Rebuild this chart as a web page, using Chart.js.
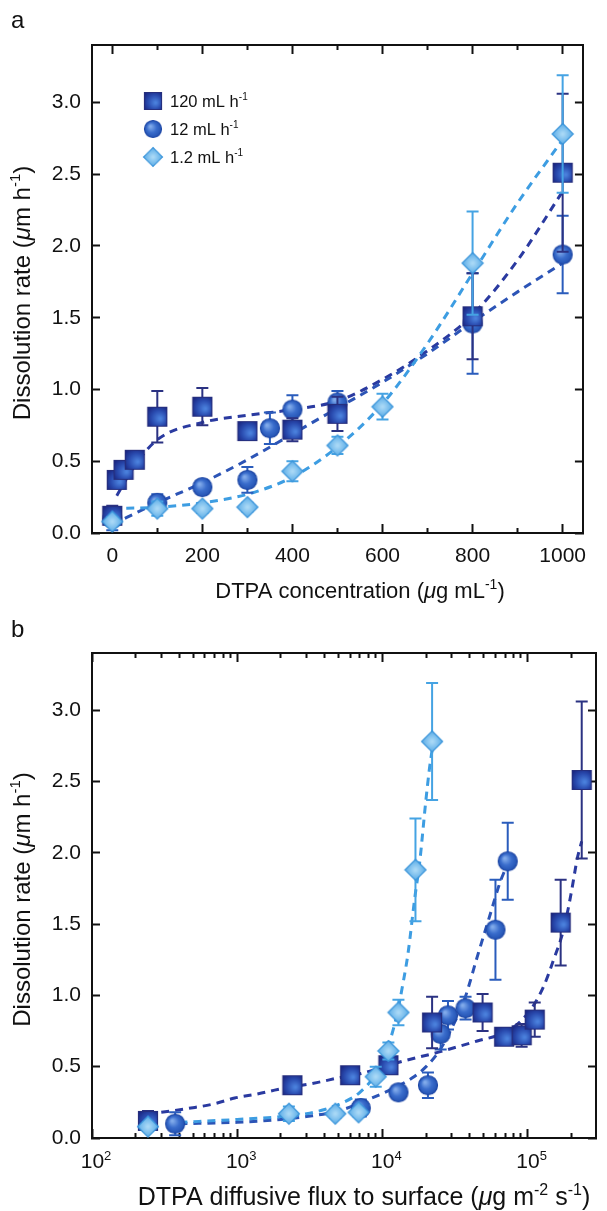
<!DOCTYPE html>
<html>
<head>
<meta charset="utf-8">
<script src="https://cdn.jsdelivr.net/npm/chart.js@4.4.0/dist/chart.umd.min.js"></script>
<style>
  html, body { margin: 0; padding: 0; background: #fff; }
  #wrap { position: relative; width: 607px; height: 1211px; }
  .panel { position: absolute; left: 0; width: 607px; }
  #pa { top: 0; height: 605px; }
  #pb { top: 605px; height: 606px; }
</style>
</head>
<body>
<div id="wrap">
  <div class="panel" id="pa"><canvas id="chartA" width="607" height="605"></canvas></div>
  <div class="panel" id="pb"><canvas id="chartB" width="607" height="606"></canvas></div>
</div>
<script>
// --- data ---

// panel a: DTPA concentration (ug mL-1)
const concSq = [0, 10, 25, 50, 100, 200, 300, 400, 500, 800, 1000];
const concCi = [0, 100, 200, 300, 350, 400, 500, 800, 1000];
const concDi = [0, 100, 200, 300, 400, 500, 600, 800, 1000];

// panel b: DTPA diffusive flux to surface (ug m-2 s-1)
const fluxSq = [243, 2400, 6000, 11000, 22000, 49000, 69000, 91000, 112000, 169000, 236000];
const fluxCi = [374, 7100, 12900, 20600, 25200, 28300, 37400, 60100, 73000];
const fluxDi = [243, 2270, 4740, 6860, 9000, 11000, 12900, 16900, 22000];

// dissolution rate (um h-1) +/- error, same points in both panels
const rateSq = [0.12, 0.37, 0.44, 0.51, 0.81, 0.88, 0.71, 0.72, 0.83, 1.51, 2.51];
const errSq  = [0.07, 0.03, 0.03, 0.03, 0.18, 0.13, 0.05, 0.08, 0.12, 0.30, 0.55];
const rateCi = [0.10, 0.21, 0.32, 0.37, 0.73, 0.86, 0.91, 1.46, 1.94];
const errCi  = [0.08, 0.06, 0.03, 0.09, 0.11, 0.10, 0.08, 0.35, 0.27];
const rateDi = [0.08, 0.17, 0.17, 0.18, 0.43, 0.61, 0.88, 1.88, 2.78];
const errDi  = [0.03, 0.05, 0.03, 0.03, 0.07, 0.06, 0.09, 0.36, 0.41];

// dashed trend lines, panel a
const fitConcSq = [10, 50, 100, 200, 300, 400, 500, 600, 700, 800, 900, 1000];
const fitSqA    = [0.26, 0.47, 0.65, 0.77, 0.82, 0.86, 0.92, 1.07, 1.27, 1.52, 1.90, 2.38];
const fitConc   = [0, 100, 200, 300, 400, 500, 600, 700, 800, 900, 1000];
const fitCiA    = [0.06, 0.21, 0.35, 0.51, 0.69, 0.87, 1.05, 1.25, 1.47, 1.68, 1.88];
const fitDiA    = [0.17, 0.18, 0.21, 0.27, 0.39, 0.60, 0.90, 1.32, 1.81, 2.30, 2.74];

// dashed trend lines, panel b
const fitFluxSq = [300, 480, 700, 960, 1400, 1900, 3600, 4900, 7000, 14000, 24000, 45000, 70000, 90000, 110000, 130000, 150000, 178000, 200000, 220000, 236000];
const fitSqB    = [0.18, 0.21, 0.24, 0.28, 0.31, 0.34, 0.39, 0.42, 0.45, 0.54, 0.60, 0.68, 0.74, 0.82, 0.93, 1.07, 1.24, 1.47, 1.72, 1.96, 2.08];
const fitFluxCi = [400, 1000, 2000, 3000, 5000, 8000, 12000, 16000, 20000, 25000, 30000, 37000, 45000, 55000, 65000, 70000];
const fitCiB    = [0.10, 0.11, 0.13, 0.15, 0.19, 0.27, 0.35, 0.42, 0.50, 0.62, 0.77, 0.98, 1.27, 1.56, 1.80, 1.88];
const fitFluxDi = [400, 1000, 2000, 3000, 4000, 5400, 7000, 9000, 11000, 12500, 13900, 15000, 16700, 18100, 19900, 21100, 22000];
const fitDiB    = [0.11, 0.13, 0.15, 0.17, 0.20, 0.25, 0.32, 0.45, 0.65, 0.85, 1.09, 1.29, 1.68, 1.94, 2.36, 2.59, 2.72];

// ticks
const rateTicks = [0, 0.5, 1, 1.5, 2, 2.5, 3];
const concTicks = [0, 200, 400, 600, 800, 1000];
const concMinorTicks = [100, 300, 500, 700, 900];
const fluxDecades = [100, 1000, 10000, 100000];
const fluxExponents = ['2', '3', '4', '5'];

const seriesNames = ['120 mL h', '12 mL h', '1.2 mL h'];

const FONT = '"Liberation Sans", Arial, Helvetica, sans-serif';
const INK = '#111';
const FLUX_MAX = 296000;

// minor log ticks: 2..9 within each decade
const fluxMinorTicks = [];
fluxDecades.forEach(d => {
  for (let m = 2; m <= 9; m++) if (d * m < FLUX_MAX) fluxMinorTicks.push(d * m);
});

// shaded marker images
function markerCanvas(kind) {
  const c = document.createElement('canvas');
  const S = kind === 'di' ? 24 : 22;
  c.width = S; c.height = S;
  const g = c.getContext('2d');
  const m = S / 2;
  let grad;
  g.beginPath();
  if (kind === 'sq') {
    g.rect(m - 9.5, m - 9.5, 19, 19);
    grad = g.createRadialGradient(m + 3, m + 2, 1, m + 1, m + 1, 13);
    grad.addColorStop(0, '#4a80dc');
    grad.addColorStop(0.55, '#2a4cb0');
    grad.addColorStop(1, '#1b2884');
    g.strokeStyle = '#262e7c';
  } else if (kind === 'ci') {
    g.arc(m, m, 9.5, 0, Math.PI * 2);
    grad = g.createRadialGradient(m - 3, m - 3, 1, m, m, 10);
    grad.addColorStop(0, '#80aaea');
    grad.addColorStop(0.5, '#3a6dcc');
    grad.addColorStop(1, '#2150b0');
    g.strokeStyle = '#1f48a6';
  } else {
    g.moveTo(m, m - 10.5); g.lineTo(m + 10.5, m); g.lineTo(m, m + 10.5); g.lineTo(m - 10.5, m);
    g.closePath();
    grad = g.createRadialGradient(m, m, 1, m, m, 11);
    grad.addColorStop(0, '#a8d8f6');
    grad.addColorStop(1, '#54a8e6');
    g.strokeStyle = '#3a94da';
  }
  g.fillStyle = grad;
  g.fill();
  g.lineWidth = 1.2;
  g.stroke();
  return c;
}
const MK = { sq: markerCanvas('sq'), ci: markerCanvas('ci'), di: markerCanvas('di') };

const COL = {
  sqLine: '#2a3aa0', ciLine: '#2c54b6', diLine: '#3d9de2',
  sqErr: '#2b3282', ciErr: '#2a5cbc', diErr: '#45a3e3'
};

const pts = (xs, ys) => xs.map((x, i) => ({ x, y: ys[i] }));

// text with italic / superscript runs
function drawRich(ctx, parts, x, y, size, align, rotate) {
  ctx.save();
  ctx.translate(x, y);
  if (rotate) ctx.rotate(-Math.PI / 2);
  const fontOf = k => (k === 'i' ? 'italic ' : '') + (k === 's' ? Math.round(size * 0.62) : size) + 'px ' + FONT;
  let total = 0;
  parts.forEach(([t, k]) => { ctx.font = fontOf(k); total += ctx.measureText(t).width; });
  let cx = align === 'center' ? -total / 2 : 0;
  ctx.textBaseline = 'alphabetic';
  ctx.textAlign = 'left';
  ctx.fillStyle = INK;
  parts.forEach(([t, k]) => {
    ctx.font = fontOf(k);
    ctx.fillText(t, cx, k === 's' ? -size * 0.4 : 0);
    cx += ctx.measureText(t).width;
  });
  ctx.restore();
}

const errorBars = {
  id: 'errorBars',
  beforeDatasetDraw(chart, args) {
    const ds = chart.data.datasets[args.index];
    if (!ds.errors) return;
    const { ctx } = chart;
    const x = chart.scales.x, y = chart.scales.y;
    ctx.save();
    ctx.strokeStyle = ds.errColor;
    ctx.lineWidth = 2;
    ds.data.forEach((p, i) => {
      const px = x.getPixelForValue(p.x);
      const top = y.getPixelForValue(p.y + ds.errors[i]);
      const bot = y.getPixelForValue(p.y - ds.errors[i]);
      ctx.beginPath();
      ctx.moveTo(px, top); ctx.lineTo(px, bot);
      ctx.moveTo(px - 6, top); ctx.lineTo(px + 6, top);
      ctx.moveTo(px - 6, bot); ctx.lineTo(px + 6, bot);
      ctx.stroke();
    });
    ctx.restore();
  }
};

function axis(position, o) {
  const side = position === 'left' || position === 'right';
  return {
    type: o.type || 'linear',
    position,
    min: o.min, max: o.max,
    weight: o.weight || 0,
    afterBuildTicks: s => { s.ticks = o.ticks.map(v => ({ value: v })); },
    afterFit: s => { if (side) s.width = o.size; else s.height = o.size; },
    border: { display: o.border !== false, color: INK, width: 2 },
    grid: { drawOnChartArea: false, tickLength: -o.tick, tickWidth: 2, tickColor: INK },
    ticks: o.labels
      ? { display: true, autoSkip: false, maxRotation: 0, padding: o.pad, color: INK,
          font: { family: FONT, size: 21 }, callback: o.labels }
      : { display: false }
  };
}

function datasets(xSq, xCi, xDi, fits) {
  const line = (data, color, order) => ({
    data, showLine: true, pointRadius: 0, borderColor: color, borderWidth: 3,
    borderDash: [8, 6], cubicInterpolationMode: 'monotone', fill: false, order
  });
  const mark = (label, data, errors, errColor, style, order) => ({
    label, data, errors, errColor, pointStyle: style, pointRadius: 10, order
  });
  return [
    line(fits[0], COL.sqLine, 6),
    line(fits[1], COL.ciLine, 5),
    line(fits[2], COL.diLine, 4),
    mark(seriesNames[1], pts(xCi, rateCi), errCi, COL.ciErr, MK.ci, 3),
    mark(seriesNames[0], pts(xSq, rateSq), errSq, COL.sqErr, MK.sq, 2),
    mark(seriesNames[2], pts(xDi, rateDi), errDi, COL.diErr, MK.di, 1)
  ];
}

function yScales() {
  return {
    y: axis('left', { min: 0, max: 3.4, ticks: rateTicks, tick: 8, size: 92, pad: 19,
                      labels: v => v.toFixed(1) }),
    yr: axis('right', { min: 0, max: 3.4, ticks: rateTicks, tick: 8, size: 0 })
  };
}

const baseOpts = padTop => ({
  responsive: false, animation: false, devicePixelRatio: 1, events: [],
  layout: { padding: { top: padTop, right: 9, bottom: 0, left: 0 } },
  plugins: { legend: { display: false }, tooltip: { enabled: false } }
});

const yTitle = [['Dissolution rate (', ''], ['\u03bc', 'i'], ['m h', ''], ['-1', 's'], [')', '']];

// ---------- panel a ----------
const decorA = {
  id: 'decorA',
  afterDraw(chart) {
    const { ctx, chartArea: a } = chart;
    ctx.save();
    ctx.font = '24px ' + FONT; ctx.fillStyle = INK; ctx.textBaseline = 'alphabetic';
    ctx.fillText('a', 11, 28);
    ctx.restore();
    drawRich(ctx, yTitle, 30, (a.top + a.bottom) / 2 + 4, 24, 'center', true);
    drawRich(ctx, [['DTPA concentration (', ''], ['\u03bc', 'i'], ['g mL', ''], ['-1', 's'], [')', '']],
             360, 598, 22, 'center', false);
    // legend
    const marks = [MK.sq, MK.ci, MK.di];
    seriesNames.forEach((name, i) => {
      const cy = 101 + i * 28;
      const img = marks[i];
      ctx.drawImage(img, 153 - img.width * 0.45, cy - img.height * 0.45, img.width * 0.9, img.height * 0.9);
      drawRich(ctx, [[name, ''], ['-1', 's']], 170, cy + 6, 16.5, 'left', false);
    });
  }
};

new Chart(document.getElementById('chartA'), {
  type: 'scatter',
  data: { datasets: datasets(concSq, concCi, concDi,
    [pts(fitConcSq, fitSqA), pts(fitConc, fitCiA), pts(fitConc, fitDiA)]) },
  options: Object.assign(baseOpts(45), {
    scales: Object.assign({
      xm: axis('bottom', { min: -45, max: 1045, ticks: concMinorTicks, tick: 5, size: 0, weight: 0, border: false }),
      x: axis('bottom', { min: -45, max: 1045, ticks: concTicks, tick: 9, size: 72, weight: 1, pad: 20,
                          labels: v => String(v) }),
      xt: axis('top', { min: -45, max: 1045, ticks: concTicks, tick: 9, size: 0, weight: 0 }),
      xtm: axis('top', { min: -45, max: 1045, ticks: concMinorTicks, tick: 5, size: 0, weight: 1, border: false })
    }, yScales())
  }),
  plugins: [errorBars, decorA]
});

// ---------- panel b ----------
const decorB = {
  id: 'decorB',
  afterDraw(chart) {
    const { ctx, chartArea: a } = chart;
    ctx.save();
    ctx.font = '24px ' + FONT; ctx.fillStyle = INK; ctx.textBaseline = 'alphabetic';
    ctx.fillText('b', 11, 32);
    ctx.restore();
    drawRich(ctx, yTitle, 30, (a.top + a.bottom) / 2 + 4, 24, 'center', true);
    drawRich(ctx, [['DTPA diffusive flux to surface (', ''], ['\u03bc', 'i'], ['g m', ''], ['-2', 's'],
                   [' s', ''], ['-1', 's'], [')', '']],
             364, 600, 25, 'center', false);
    // log tick labels 10^n
    const x = chart.scales.x;
    fluxDecades.forEach((d, i) => {
      const px = x.getPixelForValue(d);
      drawRich(ctx, [['10', ''], [fluxExponents[i], 's']], px + 4, a.bottom + 30, 21, 'center', false);
    });
  }
};

const logAxis = (pos, ticks, tick, size, weight, border) =>
  axis(pos, { type: 'logarithmic', min: 100, max: FLUX_MAX, ticks, tick, size, weight, border });

new Chart(document.getElementById('chartB'), {
  type: 'scatter',
  data: { datasets: datasets(fluxSq, fluxCi, fluxDi,
    [pts(fitFluxSq, fitSqB), pts(fitFluxCi, fitCiB), pts(fitFluxDi, fitDiB)]) },
  options: Object.assign(baseOpts(48), {
    scales: Object.assign({
      xm: logAxis('bottom', fluxMinorTicks, 5, 0, 0, false),
      x: logAxis('bottom', fluxDecades, 9, 73, 1, true),
      xt: logAxis('top', fluxDecades, 9, 0, 0, true),
      xtm: logAxis('top', fluxMinorTicks, 5, 0, 1, false)
    }, yScales())
  }),
  plugins: [errorBars, decorB]
});
</script>
</body>
</html>
